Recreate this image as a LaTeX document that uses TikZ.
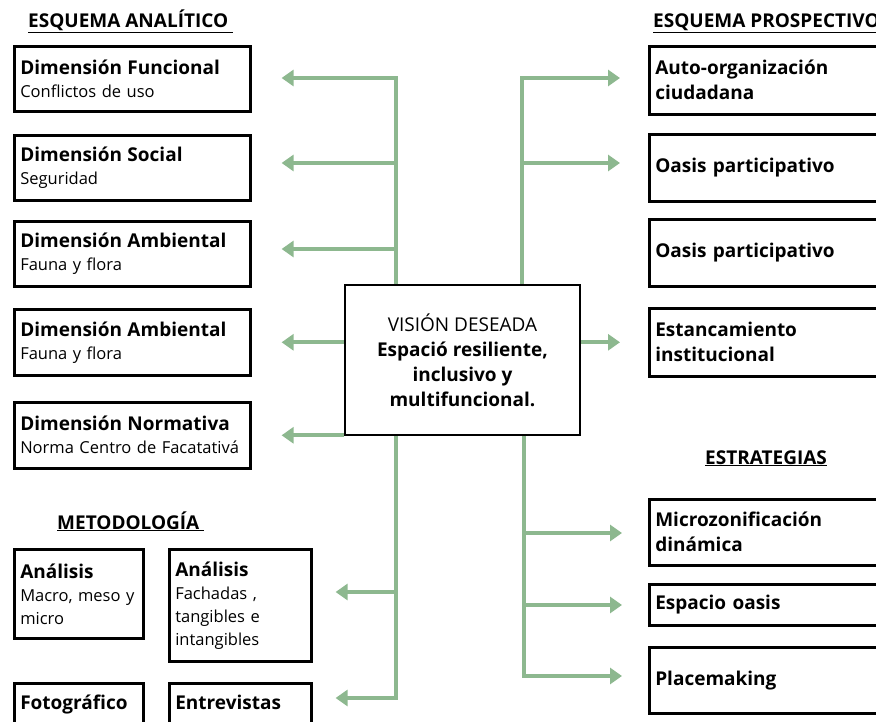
\documentclass[tikz,border=0pt]{standalone}
\usepackage{fontspec}
\setmainfont{Open Sans}
\usetikzlibrary{arrows.meta}
\definecolor{verde}{RGB}{141,184,143}
\newcommand{\cab}[1]{{\fontsize{19}{23}\selectfont\bfseries #1}}

\begin{document}
\begin{tikzpicture}[x=1pt,y=-1pt,
	caja/.style={draw=black,line width=2.6pt,rectangle,anchor=north west,align=left,inner xsep=6pt,font=\fontsize{16.5}{23}\selectfont},
	izq/.style={caja,text width=224pt,minimum height=65pt},
	der/.style={caja,text width=248pt,minimum height=67pt,font=\fontsize{19}{25}\selectfont\bfseries},
	corte/.style={caja,text height=20pt,text depth=40pt,inner ysep=6pt},
	titulo/.style={anchor=base west,inner sep=0pt,font=\fontsize{19}{22}\selectfont\bfseries},
	rama/.style={draw=verde,line width=4pt,-{Triangle[width=16pt,length=12pt]}}]
	\useasboundingbox (0,0) rectangle (876,722);
	\clip (0,0) rectangle (876,722);
	\node[titulo] (TA) at (28,28) {\underline{ESQUEMA ANALÍTICO\ }};
	\node[titulo] (TP) at (653,28) {\underline{ESQUEMA PROSPECTIVO}};
	\node[titulo] (TM) at (57,529) {\underline{METODOLOGÍA\ }};
	\node[titulo] (TE) at (705,464) {\underline{ESTRATEGIAS}};
	\node[izq] (DF) at (13,45) {\cab{Dimensión Funcional}\\Conflictos de uso};
	\node[izq] (DS) at (13,134) {\cab{Dimensión Social}\\Seguridad};
	\node[izq] (DA) at (13,220) {\cab{Dimensión Ambiental}\\Fauna y flora};
	\node[izq,minimum height=66pt] (DB) at (13,308) {\cab{Dimensión Ambiental}\\Fauna y flora};
	\node[izq,minimum height=66pt] (DN) at (13,401) {\cab{Dimensión Normativa}\\Norma Centro de Facatativá};
	\node[caja,text width=117pt,minimum height=89pt] (MA) at (13,548) {\cab{Análisis}\\Macro, meso y\\micro};
	\node[caja,text width=130pt,minimum height=112pt] (MB) at (168,548) {\cab{Análisis}\\Fachadas ,\\tangibles e\\intangibles};
	\node[corte,text width=117pt] (FO) at (13,682) {\cab{Fotográfico}};
	\node[corte,text width=130pt] (EN) at (168,682) {\cab{Entrevistas}};
	\node[draw=black,line width=2.6pt,minimum width=235pt,minimum height=150pt,align=center,font=\fontsize{19}{25}\selectfont] (V) at (462.5,360) {VISIÓN DESEADA\\\textbf{Espació resiliente,}\\\textbf{inclusivo y}\\\textbf{multifuncional.}};
	\node[der,minimum height=68pt] (AO) at (648,45) {Auto-organización\\ciudadana};
	\node[der] (OA) at (648,133) {Oasis participativo};
	\node[der] (OB) at (648,218) {Oasis participativo};
	\node[der,minimum height=68pt] (EI) at (648,307) {Estancamiento\\institucional};
	\node[der,minimum height=66pt] (MZ) at (648,498) {Microzonificación\\dinámica};
	\node[der,minimum height=41pt] (EO) at (648,583) {Espacio oasis};
	\node[der,minimum height=66pt] (PM) at (648,646) {Placemaking};
	\coordinate (L1) at (396,78);
	\coordinate (L2) at (396,163);
	\coordinate (L3) at (396,249);
	\coordinate (R1) at (522,78);
	\coordinate (R2) at (522,163);
	\coordinate (B1) at (396,592);
	\coordinate (B2) at (396,698);
	\coordinate (C1) at (524,533);
	\coordinate (C2) at (524,605);
	\coordinate (C3) at (524,676);
	\draw[rama,shorten >=30pt] (L1 |- V.north) -- (L1) -- (L1 -| DF.east);
	\draw[rama,shorten >=30pt] (L2) -- (L2 -| DS.east);
	\draw[rama,shorten >=30pt] (L3) -- (L3 -| DA.east);
	\draw[rama,shorten >=30pt] (V.west |- DB.east) -- (DB.east);
	\draw[rama,shorten >=30pt] (V.west |- DN.east) -- (DN.east);
	\draw[rama,shorten >=28pt] (R1 |- V.north) -- (R1) -- (R1 -| AO.west);
	\draw[rama,shorten >=28pt] (R2) -- (R2 -| OA.west);
	\draw[rama,shorten >=28pt] (V.east |- EI.west) -- (EI.west);
	\draw[rama,shorten >=23pt] (B2 |- V.south) -- (B2) -- (B2 -| EN.east);
	\draw[rama,shorten >=23pt] (B1) -- (B1 -| MB.east);
	\draw[rama,shorten >=26pt] (C3 |- V.south) -- (C3) -- (C3 -| PM.west);
	\draw[rama,shorten >=26pt] (C1) -- (C1 -| MZ.west);
	\draw[rama,shorten >=26pt] (C2) -- (C2 -| EO.west);
\end{tikzpicture}
\end{document}
